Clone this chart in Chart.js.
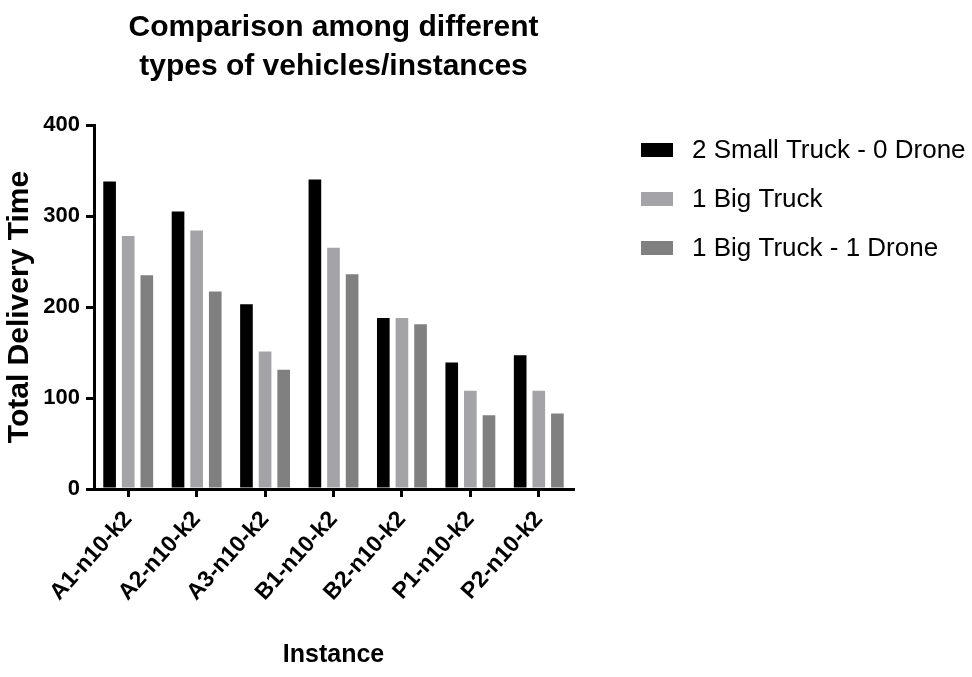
<!DOCTYPE html>
<html>
<head>
<meta charset="utf-8">
<script src="https://cdn.jsdelivr.net/npm/chart.js@4"></script>
<style>
  html, body { margin: 0; padding: 0; background: #fff; }
  #wrap { width: 972px; height: 677px; position: relative; }
</style>
</head>
<body>
<div id="wrap"><canvas id="chart" width="972" height="677"></canvas></div>
<script>
// Instances on the x axis
const instances = ['A1-n10-k2', 'A2-n10-k2', 'A3-n10-k2', 'B1-n10-k2', 'B2-n10-k2', 'P1-n10-k2', 'P2-n10-k2'];

// Total delivery time per vehicle configuration
const smallTrucks = [338, 305, 203, 340, 188, 139, 147];
const bigTruck = [278, 284, 151, 265, 188, 108, 108];
const bigTruckDrone = [235, 217, 131, 236, 181, 81, 83];

const seriesNames = ['2 Small Truck - 0 Drone', '1 Big Truck', '1 Big Truck - 1 Drone'];
const seriesColors = ['#000000', '#a4a4a8', '#808080'];

const yTicks = [0, 100, 200, 300, 400];

const FONT = "'Liberation Sans', Arial, Helvetica, sans-serif";

// Legend drawn beside the plot: swatch + label per series
const sideLegend = {
  id: 'sideLegend',
  afterDraw(chart) {
    const ctx = chart.ctx;
    ctx.save();
    ctx.font = '26px ' + FONT;
    ctx.textBaseline = 'middle';
    ctx.textAlign = 'left';
    chart.data.datasets.forEach((ds, i) => {
      const cy = 150 + i * 49;
      ctx.fillStyle = ds.backgroundColor;
      ctx.fillRect(641, cy - 7, 32, 14);
      ctx.fillStyle = '#000';
      ctx.fillText(ds.label, 692, cy + 1);
    });
    ctx.restore();
  }
};

const values = [smallTrucks, bigTruck, bigTruckDrone];

new Chart(document.getElementById('chart'), {
  type: 'bar',
  data: {
    labels: instances,
    datasets: values.map((v, i) => ({
      label: seriesNames[i],
      data: v,
      backgroundColor: seriesColors[i],
      borderWidth: 0,
      categoryPercentage: 0.816,
      barPercentage: 0.68
    }))
  },
  options: {
    responsive: false,
    animation: false,
    devicePixelRatio: 1,
    layout: { padding: { left: 0, right: 399, top: 0, bottom: 0 } },
    plugins: {
      legend: { display: false },
      tooltip: { enabled: false },
      title: {
        display: true,
        fullSize: false,
        text: ['Comparison among different', 'types of vehicles/instances'],
        color: '#000',
        font: { family: FONT, size: 30, weight: 'bold', lineHeight: 1.3 },
        padding: { top: 8, bottom: 39 }
      }
    },
    scales: {
      x: {
        offset: true,
        afterFit(scale) { scale.height = 188; },
        grid: {
          display: true,
          offset: false,
          drawOnChartArea: false,
          drawTicks: true,
          tickLength: 8,
          lineWidth: 3,
          color: '#000'
        },
        border: { display: true, color: '#000', width: 3 },
        ticks: {
          color: '#000',
          font: { family: FONT, size: 23, weight: 'bold' },
          minRotation: 48,
          maxRotation: 48,
          padding: 9,
          autoSkip: false
        },
        title: {
          display: true,
          text: 'Instance',
          color: '#000',
          font: { family: FONT, size: 25, weight: 'bold', lineHeight: 1.2 },
          padding: { top: 0, bottom: 7 }
        }
      },
      y: {
        min: 0,
        max: 400,
        afterFit(scale) { scale.width = 94; },
        afterBuildTicks(scale) { scale.ticks = yTicks.map(v => ({ value: v })); },
        grid: {
          display: true,
          drawOnChartArea: false,
          drawTicks: true,
          tickLength: 8,
          lineWidth: 3,
          color: '#000'
        },
        border: { display: true, color: '#000', width: 3 },
        ticks: {
          color: '#000',
          font: { family: FONT, size: 22, weight: 'bold' },
          padding: 6
        },
        title: {
          display: true,
          text: 'Total Delivery Time',
          color: '#000',
          font: { family: FONT, size: 30, weight: 'bold', lineHeight: 1.2 },
          padding: { top: 2, bottom: 0 }
        }
      }
    }
  },
  plugins: [sideLegend]
});
</script>
</body>
</html>
